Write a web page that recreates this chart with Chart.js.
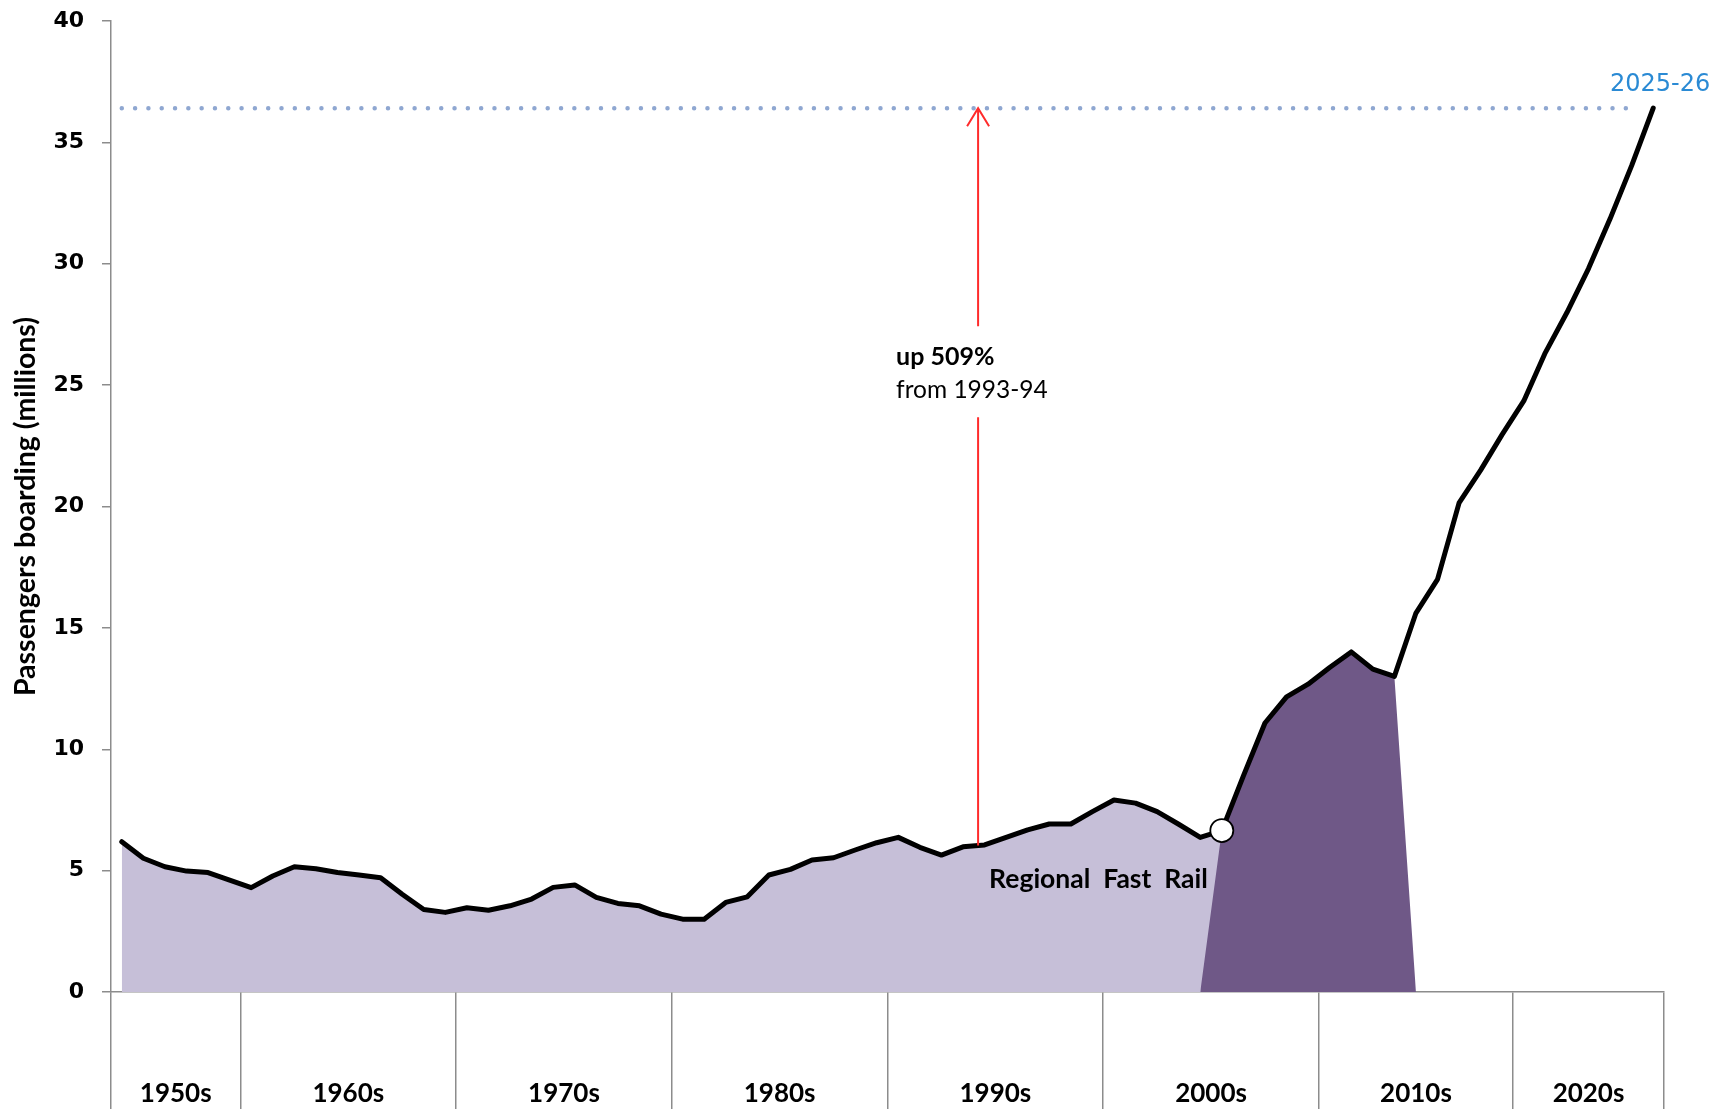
<!DOCTYPE html>
<html>
<head>
<meta charset="utf-8">
<script src="https://cdn.jsdelivr.net/npm/chart.js@4.4.1/dist/chart.umd.min.js"></script>
<style>
html, body { margin: 0; padding: 0; background: #fff; }
#wrap { width: 1726px; height: 1109px; }
</style>
</head>
<body>
<div id="wrap"><canvas id="boardings"></canvas></div>
<script>
const years = [
    "1954-55","1955-56","1956-57","1957-58","1958-59","1959-60",
    "1960-61","1961-62","1962-63","1963-64","1964-65","1965-66","1966-67","1967-68","1968-69","1969-70",
    "1970-71","1971-72","1972-73","1973-74","1974-75","1975-76","1976-77","1977-78","1978-79","1979-80",
    "1980-81","1981-82","1982-83","1983-84","1984-85","1985-86","1986-87","1987-88","1988-89","1989-90",
    "1990-91","1991-92","1992-93","1993-94","1994-95","1995-96","1996-97","1997-98","1998-99","1999-00",
    "2000-01","2001-02","2002-03","2003-04","2004-05","2005-06","2006-07","2007-08","2008-09","2009-10",
    "2010-11","2011-12","2012-13","2013-14","2014-15","2015-16","2016-17","2017-18","2018-19",
    "2019-20","2020-21","2021-22","2022-23","2023-24","2024-25","2025-26"
];
// passengers boarding, millions
const passengers = [
    6.19, 5.51, 5.16, 4.98, 4.92, 4.61,
    4.30, 4.78, 5.16, 5.08, 4.92, 4.82, 4.71, 4.03, 3.40, 3.28,
    3.47, 3.37, 3.55, 3.83, 4.31, 4.41, 3.90, 3.65, 3.55, 3.21,
    3.00, 3.00, 3.69, 3.92, 4.82, 5.05, 5.44, 5.53, 5.85, 6.15,
    6.37, 5.96, 5.64, 5.98, 6.06, 6.37, 6.68, 6.92, 6.92, 7.43,
    7.91, 7.78, 7.43, 6.91, 6.37, 6.65, 8.90, 11.08, 12.16, 12.68,
    13.37, 14.01, 13.30, 13.00, 15.61, 17.00, 20.15, 21.50, 22.97,
    24.35, 26.34, 27.99, 29.80, 31.85, 34.04, 36.41
];
const decadeNames = ["1950s","1960s","1970s","1980s","1990s","2000s","2010s","2020s"];
const decadeSizes = [6, 10, 10, 10, 10, 10, 9, 7];
const yTickValues = [0, 5, 10, 15, 20, 25, 30, 35, 40];

const rfsStart = years.indexOf("2005-06");   // Regional Fast Rail opens
const rfsEnd = years.indexOf("2013-14");
const baseYear = years.indexOf("1993-94");
const lastIdx = passengers.length - 1;
const growth = Math.round((passengers[lastIdx] / passengers[baseYear] - 1) * 100);

// shaded areas built from the main series
const lightFill = passengers.map((v, i) => i <= rfsStart ? v : null);
const darkFill = passengers.map((v, i) => {
    if (i < rfsStart - 1 || i > rfsEnd + 1) return null;
    if (i === rfsStart - 1 || i === rfsEnd + 1) return 0;
    return v;
});
const targetLine = passengers.map((v, i) => i < lastIdx ? passengers[lastIdx] : null);

// decade group boundaries and centres on a -0.5..n-0.5 axis
const bounds = [-0.5];
const centres = [];
decadeSizes.forEach(n => {
    const start = bounds[bounds.length - 1];
    centres.push(start + n / 2);
    bounds.push(start + n);
});

const axisGrey = "#8c8c8c";

const notes = {
    id: "notes",
    afterDatasetsDraw(chart) {
        const {ctx} = chart;
        const x = chart.scales.x, y = chart.scales.y;

        // red arrow from 1993-94 up to the 2025-26 level
        const x0 = x.getPixelForValue(baseYear), x1 = x.getPixelForValue(baseYear + 1);
        const ax = x0 + (x1 - x0) * 0.7;
        const y0 = y.getPixelForValue(passengers[baseYear]);
        const y1 = y.getPixelForValue(passengers[baseYear + 1]);
        const bottom = y0 + (y1 - y0) * 0.7;
        const top = y.getPixelForValue(passengers[lastIdx]);
        const textY = y.getPixelForValue(26.15);

        ctx.save();
        ctx.strokeStyle = "#ff2b2b";
        ctx.lineWidth = 2;
        ctx.beginPath();
        ctx.moveTo(ax, bottom);
        ctx.lineTo(ax, textY + 60);
        ctx.moveTo(ax, textY - 31);
        ctx.lineTo(ax, top);
        ctx.moveTo(ax - 11, top + 18);
        ctx.lineTo(ax, top);
        ctx.lineTo(ax + 11, top + 18);
        ctx.stroke();

        ctx.fillStyle = "#000";
        ctx.textAlign = "left";
        ctx.textBaseline = "middle";
        ctx.font = "bold 25px Lato";
        ctx.fillText("up " + growth + "%", ax - 82, textY);
        ctx.font = "24.5px Lato";
        ctx.fillText("from " + years[baseYear], ax - 82, textY + 33);

        // Regional Fast Rail label
        const rx = x.getPixelForValue(rfsStart);
        const ry = y.getPixelForValue(passengers[rfsStart]);
        ctx.font = "bold 26.5px Lato";
        ctx.textAlign = "right";
        ctx.fillText("Regional  Fast  Rail", rx - 14, ry + 49);

        // end year label
        const ex = x.getPixelForValue(lastIdx);
        ctx.font = "24px 'DejaVu Sans'";
        ctx.fillStyle = "#2a8ad4";
        ctx.fillText(years[lastIdx], ex + 57, top - 23);
        ctx.restore();
    }
};

new Chart(document.getElementById("boardings"), {
    type: "line",
    data: {
        labels: years,
        datasets: [
            {
                label: "Passengers",
                data: passengers,
                borderColor: "#000",
                borderWidth: 5,
                borderJoinStyle: "round",
                borderCapStyle: "round",
                tension: 0,
                fill: false,
                pointRadius: ctx => ctx.dataIndex === rfsStart ? 11.5 : 0,
                pointBackgroundColor: "#fff",
                pointBorderColor: "#000",
                pointBorderWidth: 1.8,
                order: 0
            },
            {
                label: "2025-26 level",
                data: targetLine,
                borderColor: "#8fa7d1",
                borderWidth: 4.5,
                borderDash: [0.01, 13.3],
                borderCapStyle: "round",
                pointRadius: 0,
                fill: false,
                order: 1
            },
            {
                label: "Regional Fast Rail",
                data: darkFill,
                borderColor: "rgba(0,0,0,0)",
                borderWidth: 0,
                backgroundColor: "#6f5887",
                pointRadius: 0,
                fill: "origin",
                order: 2
            },
            {
                label: "Before",
                data: lightFill,
                borderColor: "rgba(0,0,0,0)",
                borderWidth: 0,
                backgroundColor: "#c6bfd8",
                pointRadius: 0,
                fill: "origin",
                order: 3
            }
        ]
    },
    options: {
        responsive: true,
        maintainAspectRatio: false,
        animation: false,
        devicePixelRatio: 1,
        layout: {padding: {left: 0, top: 21, right: 62, bottom: 0}},
        plugins: {legend: {display: false}, tooltip: {enabled: false}},
        scales: {
            x: {
                type: "category",
                offset: true,
                display: false
            },
            decades: {
                type: "linear",
                position: "bottom",
                min: -0.5,
                max: passengers.length - 0.5,
                bounds: "data",
                afterBuildTicks: scale => {
                    scale.ticks = bounds.concat(centres).sort((a, b) => a - b).map(v => ({value: v}));
                },
                afterFit: scale => { scale.height = 117; },
                border: {display: true, color: axisGrey, width: 1.5},
                grid: {
                    drawOnChartArea: false,
                    drawTicks: true,
                    tickLength: 117,
                    lineWidth: 1.5,
                    color: ctx => (ctx.tick && bounds.includes(ctx.tick.value)) ? axisGrey : "rgba(0,0,0,0)"
                },
                ticks: {
                    autoSkip: false,
                    maxRotation: 0,
                    padding: -31,
                    color: "#000",
                    font: {family: "Lato", weight: "bold", size: 26},
                    callback: v => {
                        const k = centres.indexOf(v);
                        return k >= 0 ? decadeNames[k] : "";
                    }
                }
            },
            y: {
                type: "linear",
                min: 0,
                max: 40,
                afterBuildTicks: scale => { scale.ticks = yTickValues.map(v => ({value: v})); },
                afterFit: scale => {
                    scale.width = 111;
                    scale.paddingTop = 0;
                    scale.paddingBottom = 0;
                },
                border: {display: true, color: axisGrey, width: 1.5},
                grid: {drawOnChartArea: false, drawTicks: true, tickLength: 9, color: axisGrey, lineWidth: 1.5},
                ticks: {
                    padding: 18,
                    color: "#000",
                    font: {family: "DejaVu Sans", weight: "bold", size: 22}
                },
                title: {
                    display: true,
                    text: "Passengers boarding (millions)",
                    color: "#000",
                    font: {family: "Lato", weight: "bold", size: 28.5},
                    padding: {top: 9, bottom: 0}
                }
            }
        }
    },
    plugins: [notes]
});
</script>
</body>
</html>
